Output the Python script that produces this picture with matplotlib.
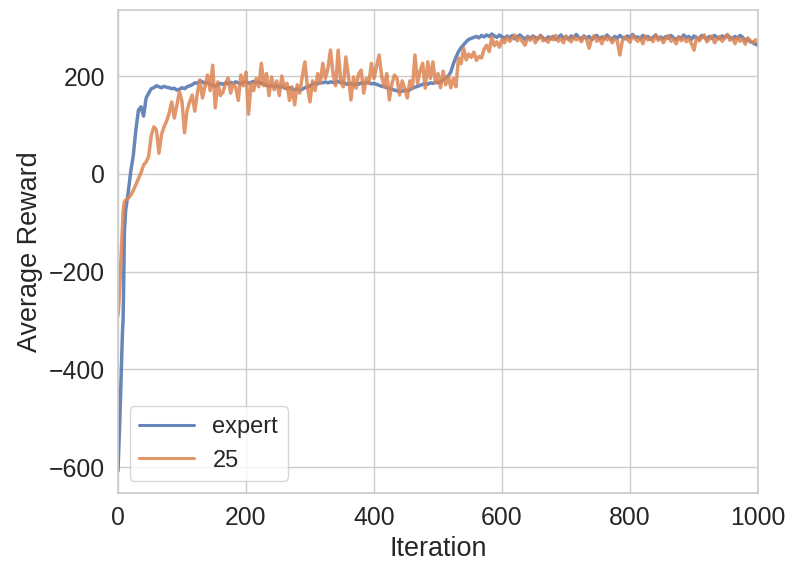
import matplotlib
matplotlib.use("Agg")
import matplotlib.pyplot as plt
import seaborn as sns

iterations = list(range(0, 11)) + list(range(12, 1001, 4))

expert = [
    -608, -575, -537, -500, -455, -410, -365, -325, -298, -220, -120,
    -75, -38, 5, 38, 90, 130, 137, 118, 155, 165,
    174, 176, 180, 178, 176, 179, 177, 176, 174, 175,
    171, 173, 176, 174, 178, 180, 182, 186, 185, 190,
    188, 185, 187, 183, 181, 179, 182, 185, 183, 186,
    184, 187, 185, 188, 186, 184, 187, 189, 185, 187,
    189, 186, 188, 185, 183, 181, 179, 181, 178, 180,
    177, 179, 176, 174, 176, 173, 172, 174, 171, 173,
    176, 178, 180, 183, 185, 184, 187, 186, 188, 186,
    188, 187, 186, 189, 186, 188, 184, 183, 185, 182,
    184, 183, 186, 185, 187, 186, 184, 185, 183, 181,
    179, 178, 176, 175, 173, 171, 170, 168, 169, 171,
    170, 172, 175, 177, 179, 181, 183, 184, 183, 186,
    185, 187, 186, 188, 192, 196, 200, 208, 225, 238,
    250, 258, 264, 270, 275, 277, 279, 281, 278, 283,
    280, 284, 281, 286, 282, 279, 284, 280, 277, 282,
    278, 283, 276, 280, 284, 279, 275, 281, 277, 282,
    279, 276, 283, 278, 274, 280, 276, 281, 275, 279,
    284, 277, 280, 275, 282, 278, 285, 279, 276, 282,
    277, 281, 274, 279, 283, 276, 280, 277, 284, 278,
    275, 281, 277, 283, 279, 276, 282, 278, 285, 279,
    280, 276, 283, 278, 281, 275, 279, 284, 277, 280,
    276, 281, 277, 283, 278, 274, 280, 277, 284, 278,
    281, 275, 282, 278, 276, 283, 279, 275, 281, 277,
    283, 279, 276, 282, 278, 284, 279, 276, 281, 277,
    283, 279, 272, 276, 270, 268, 265, 263,
]

run_25 = [
    -290, -275, -250, -225, -195, -165, -135, -105, -80, -66, -58,
    -54, -50, -44, -34, -22, -10, 2, 18, 24, 36,
    78, 96, 90, 42, 80, 96, 108, 124, 147, 114,
    140, 168, 148, 84, 130, 147, 161, 128, 165, 192,
    155, 178, 202, 170, 222, 135, 188, 160, 167, 185,
    196, 165, 185, 176, 150, 202, 180, 208, 122, 185,
    170, 195, 178, 226, 180, 205, 160, 198, 172, 190,
    160, 200, 175, 185, 150, 178, 141, 182, 165, 200,
    229, 178, 147, 190, 170, 205, 185, 226, 195, 215,
    253, 205, 180, 253, 190, 178, 239, 200, 151, 198,
    175, 205, 212, 165, 195, 185, 226, 195, 220, 243,
    200, 178, 205, 151, 185, 202, 195, 161, 190, 175,
    155, 190, 175, 243, 185, 210, 226, 175, 229, 195,
    229, 186, 205, 176, 210, 182, 200, 176, 195, 178,
    237, 225, 257, 233, 245, 238, 249, 232, 240, 237,
    255, 263, 250, 280, 262, 270, 259, 275, 268, 280,
    271, 277, 284, 272, 279, 270, 263, 279, 273, 281,
    268, 277, 283, 272, 276, 269, 280, 274, 283, 271,
    277, 268, 282, 275, 270, 280, 274, 278, 270, 281,
    276, 257, 276, 283, 271, 278, 266, 281, 274, 279,
    268, 276, 272, 243, 272, 280, 275, 269, 283, 276,
    271, 279, 266, 282, 274, 278, 270, 284, 273, 279,
    268, 277, 283, 271, 276, 266, 280, 272, 278, 270,
    276, 266, 253, 280, 272, 278, 284, 270, 276, 282,
    268, 275, 281, 271, 278, 285, 273, 279, 266, 279,
    271, 276, 265, 278, 272, 268, 274, 270,
]

sns.set_theme(style="whitegrid", font_scale=1.62)
plt.rcParams["font.family"] = ["Liberation Sans", "DejaVu Sans"]

fig, ax = plt.subplots(figsize=(7.88, 5.66), dpi=100)
fig.subplots_adjust(left=0.1497, right=0.962, top=0.9823, bottom=0.129)

pal = sns.color_palette("deep")
ax.plot(iterations, expert, color=pal[0], lw=2.5, alpha=0.85, label="expert")
ax.plot(iterations, run_25, color=pal[1], lw=2.5, alpha=0.85, label="25")

ax.set_xlim(0, 1000)
ax.set_ylim(-653, 335)
ax.set_xticks([0, 200, 400, 600, 800, 1000])
ax.set_yticks([-600, -400, -200, 0, 200])
ax.set_xlabel("Iteration")
ax.set_ylabel("Average Reward")
leg = ax.legend(loc="lower left", handlelength=2.3, fontsize=17)
for h in leg.get_lines():
    h.set_linewidth(2.2)

fig.savefig("out.png", dpi=100)
